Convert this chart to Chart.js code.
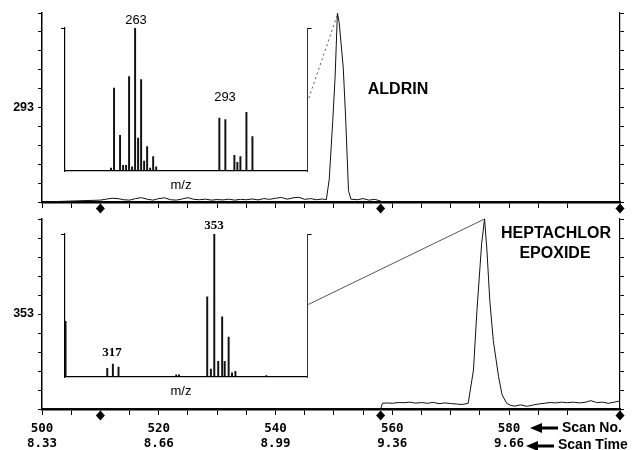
<!DOCTYPE html>
<html>
<head>
<meta charset="utf-8">
<script src="https://cdn.jsdelivr.net/npm/chart.js@4.4.0/dist/chart.umd.min.js"></script>
<style>
  html, body { margin: 0; padding: 0; background: #fff; }
  #wrap { position: relative; width: 633px; height: 450px; background: #fff; overflow: hidden; }
  #wrap canvas { position: absolute; left: 0; top: 0; }
</style>
</head>
<body>
<div id="wrap">
  <canvas id="topTrace" width="633" height="450"></canvas>
  <canvas id="botTrace" width="633" height="450"></canvas>
  <canvas id="topSpec" width="633" height="450"></canvas>
  <canvas id="botSpec" width="633" height="450"></canvas>
</div>
<script>
// scan axis
var scanTicks = [500, 520, 540, 560, 580];
var scanTimes = ['8.33', '8.66', '8.99', '9.36', '9.66'];
var markerScans = [510, 558, 599];

// ion 293 trace (aldrin)
var topScan = [500, 510, 511, 512, 513, 514, 515, 516, 517, 518, 519, 520, 521, 522, 523, 524, 525, 526, 527, 528, 529,
  530, 531, 532, 533, 534, 535, 536, 537, 538, 539, 540, 541, 542, 543, 544, 545, 546, 547, 548,
  548.7, 549.2, 549.8, 550.2, 550.6, 550.9, 551.6, 552, 552.5, 552.9, 554, 555, 556, 557, 558, 558.3, 599];
var topSignal = [0, 1, 1.5, 2, 1.8, 1.2, 1, 1.8, 2.3, 1.5, 1, 1.8, 2.2, 1.2, 1, 1.6, 2.3, 1.4, 1.2, 1.5, 1,
  1.3, 1.1, 1.5, 1, 1.4, 1.2, 1.6, 1.1, 1.8, 1.4, 2, 2.4, 1.5, 2.2, 2.5, 1.4, 1.8, 1.2, 1.6,
  1.2, 12, 43, 66, 100, 95, 71, 45, 6, 1.5, 1.2, 1.8, 1, 1.4, 0.5, 0, 0];
var topRampScan = [545.7, 550.7];
var topRampSignal = [55, 100];

// ion 353 trace (heptachlor epoxide)
var botScan = [500, 558, 558.3, 559, 560, 561, 562, 563, 564, 565, 566, 567, 568, 569, 570, 571, 572, 573,
  573.9, 574.5, 575.3, 575.8, 576.2, 576.7, 577.3, 578.2, 578.8, 579.6, 580.2,
  581, 582, 583, 584, 585, 586, 587, 588, 589, 590, 591, 592, 593, 594, 595, 596, 597, 598, 599];
var botSignal = [0, 0, 3, 3.2, 3.0, 3.4, 3.3, 3.6, 3.1, 3.4, 3.0, 3.5, 2.8, 3.2, 2.9, 2.6, 2.4, 3.0,
  20.5, 52, 87, 100, 84, 57, 36, 17, 7.5, 3, 2,
  1.5, 2.2, 1.4, 2.0, 2.6, 3.0, 3.4, 3.2, 3.6, 3.3, 3.6, 3.2, 3.5, 4.4, 3.4, 3.6, 3.0, 3.6, 4.2];
var botRampScan = [545.6, 575.8];
var botRampSignal = [55, 100];

// inset spectra
var aldrinMz = [255, 256, 258, 259, 260, 261, 262, 263, 264, 265, 266, 267, 268, 269, 270, 291, 293, 296, 297, 298, 300, 302];
var aldrinAbund = [2, 58, 25, 4, 4, 66, 3, 100, 23, 64, 7, 17, 2, 10, 3, 37, 36, 11, 6, 10, 41, 24];
var heptMz = [300.2, 315, 317, 319, 339.5, 340.5, 350.5, 351.8, 353, 354.4, 355.8, 356.7, 358.1, 359.3, 360.5, 371.5];
var heptAbund = [39, 6, 9, 7, 1.5, 1.5, 56, 5.5, 100, 11, 42, 11, 28, 3, 4, 1];

function pts(xs, ys) {
  return xs.map(function (x, i) { return { x: x, y: ys[i] }; });
}

function notesPlugin(notes, extra) {
  return {
    id: 'notes',
    afterDraw: function (chart) {
      var c = chart.ctx;
      c.save();
      c.fillStyle = '#000';
      c.textBaseline = 'middle';
      notes.forEach(function (n) {
        c.font = n.font;
        c.textAlign = n.align || 'center';
        c.fillText(n.text, n.x, n.y);
      });
      if (extra) extra(c, chart);
      c.restore();
    }
  };
}

// diamonds under the scan axis mark the scan window
function diamonds(c, chart) {
  var y = chart.chartArea.bottom + 6.5;
  markerScans.forEach(function (s) {
    var x = chart.scales.x.getPixelForValue(s);
    c.beginPath();
    c.moveTo(x, y - 5);
    c.lineTo(x + 4.5, y);
    c.lineTo(x, y + 5);
    c.lineTo(x - 4.5, y);
    c.closePath();
    c.fill();
  });
}

function traceChart(id, scans, signal, rampX, rampY, rampDash, ionLabel, padTop, axisBottom, showLabels, notes, extra) {
  return new Chart(document.getElementById(id), {
    type: 'scatter',
    data: {
      datasets: [
        { data: pts(scans, signal), showLine: true, borderColor: '#111', borderWidth: 1, pointRadius: 0, tension: 0 },
        { data: pts(rampX, rampY), showLine: true, borderColor: '#444', borderWidth: 0.9, borderDash: rampDash, pointRadius: 0, clip: false }
      ]
    },
    options: {
      responsive: false,
      animation: false,
      layout: { padding: { top: padTop, bottom: 450 - axisBottom - (showLabels ? 41 : 13), left: 0, right: 0 } },
      plugins: { legend: { display: false }, tooltip: { enabled: false } },
      scales: {
        x: {
          type: 'linear', min: 500, max: 599,
          grid: { drawOnChartArea: false, tickLength: 6, color: '#000' },
          border: { color: '#000', width: 2.5 },
          ticks: {
            stepSize: 5, autoSkip: false, maxRotation: 0, padding: 6, color: '#000', display: showLabels,
            font: { family: 'DejaVu Sans Mono', size: 12.5, weight: 'bold', lineHeight: 1.2 },
            callback: function (v) {
              var i = scanTicks.indexOf(v);
              return i >= 0 ? [String(v), scanTimes[i]] : '';
            }
          },
          afterFit: function (s) { s.height = showLabels ? 41 : 13; }
        },
        y: {
          type: 'linear', min: 0, max: 100,
          grid: { drawOnChartArea: false, tickLength: 4, color: '#000' },
          border: { color: '#000', width: 1.5 },
          ticks: {
            stepSize: 10, autoSkip: false, padding: 4, color: '#000',
            font: { family: 'Liberation Sans', size: 12.5, weight: 'bold' },
            callback: function (v) { return v === 50 ? ionLabel : ''; }
          },
          afterFit: function (s) { s.width = 42; }
        },
        y2: {
          type: 'linear', position: 'right', min: 0, max: 100,
          grid: { drawOnChartArea: false, tickLength: 4, color: '#000' },
          border: { color: '#000', width: 1.2 },
          ticks: { stepSize: 10, display: false },
          afterFit: function (s) { s.width = 13; }
        }
      }
    },
    plugins: [notesPlugin(notes, function (c, chart) {
      diamonds(c, chart);
      if (extra) extra(c, chart);
    })]
  });
}

function insetChart(id, mz, abund, mzMin, mzMax, top, bottom, notes) {
  var topTick = function (c) { return c.tick && c.tick.value === 100 ? '#000' : 'rgba(0,0,0,0)'; };
  return new Chart(document.getElementById(id), {
    type: 'bar',
    data: { datasets: [{ data: pts(mz, abund), backgroundColor: '#111', barThickness: 1.3 }] },
    options: {
      responsive: false,
      animation: false,
      layout: { padding: { top: top, left: 0, right: 0, bottom: 0 } },
      plugins: { legend: { display: false }, tooltip: { enabled: false } },
      scales: {
        x: {
          type: 'linear', min: mzMin, max: mzMax, offset: false,
          grid: { display: false, offset: false },
          border: { color: '#000', width: 1.3 },
          ticks: { display: false },
          afterFit: function (s) { s.height = 450 - bottom; }
        },
        y: {
          type: 'linear', min: 0, max: 100,
          grid: { drawOnChartArea: false, tickLength: 4, color: topTick },
          border: { color: '#000', width: 1.2 },
          ticks: { display: false, stepSize: 100 },
          afterFit: function (s) { s.width = 65; }
        },
        y2: {
          type: 'linear', position: 'right', min: 0, max: 100,
          grid: { drawOnChartArea: false, tickLength: 4, color: topTick },
          border: { color: '#333', width: 1 },
          ticks: { display: false, stepSize: 100 },
          afterFit: function (s) { s.width = 633 - 307.5; }
        }
      }
    },
    plugins: [notesPlugin(notes)]
  });
}

function arrow(c, x0, x1, y) {
  c.beginPath();
  c.moveTo(x0, y);
  c.lineTo(x0 + 12, y - 5);
  c.lineTo(x0 + 12, y + 5);
  c.closePath();
  c.fill();
  c.fillRect(x0 + 11, y - 1.5, x1 - x0 - 11, 3);
}

var bold16 = 'bold 16px "Liberation Sans"';
var lab13 = '13px "Liberation Sans"';

traceChart('topTrace', topScan, topSignal, topRampScan, topRampSignal, [2, 3], '293', 13, 202, false, [
  { text: 'ALDRIN', x: 398, y: 90, font: bold16 }
]);

traceChart('botTrace', botScan, botSignal, botRampScan, botRampSignal, [], '353', 219, 409, true, [
  { text: 'HEPTACHLOR', x: 556, y: 234, font: bold16 },
  { text: 'EPOXIDE', x: 555, y: 254, font: bold16 },
  { text: 'Scan No.', x: 562, y: 428, font: 'bold 14px "Liberation Sans"', align: 'left' },
  { text: 'Scan Time', x: 558, y: 445, font: 'bold 14px "Liberation Sans"', align: 'left' }
], function (c) {
  arrow(c, 530, 558, 428);
  arrow(c, 526, 554, 446);
});

insetChart('topSpec', aldrinMz, aldrinAbund, 239.7, 320.3, 28, 171, [
  { text: '263', x: 136, y: 20, font: lab13 },
  { text: '293', x: 225, y: 97, font: lab13 },
  { text: 'm/z', x: 181, y: 185, font: lab13 }
]);

insetChart('botSpec', heptMz, heptAbund, 300, 386.1, 234, 377, [
  { text: '353', x: 214, y: 226, font: 'bold 13px "Liberation Serif"' },
  { text: '317', x: 112, y: 353, font: 'bold 13px "Liberation Serif"' },
  { text: 'm/z', x: 181, y: 391, font: lab13 }
]);
</script>
</body>
</html>
